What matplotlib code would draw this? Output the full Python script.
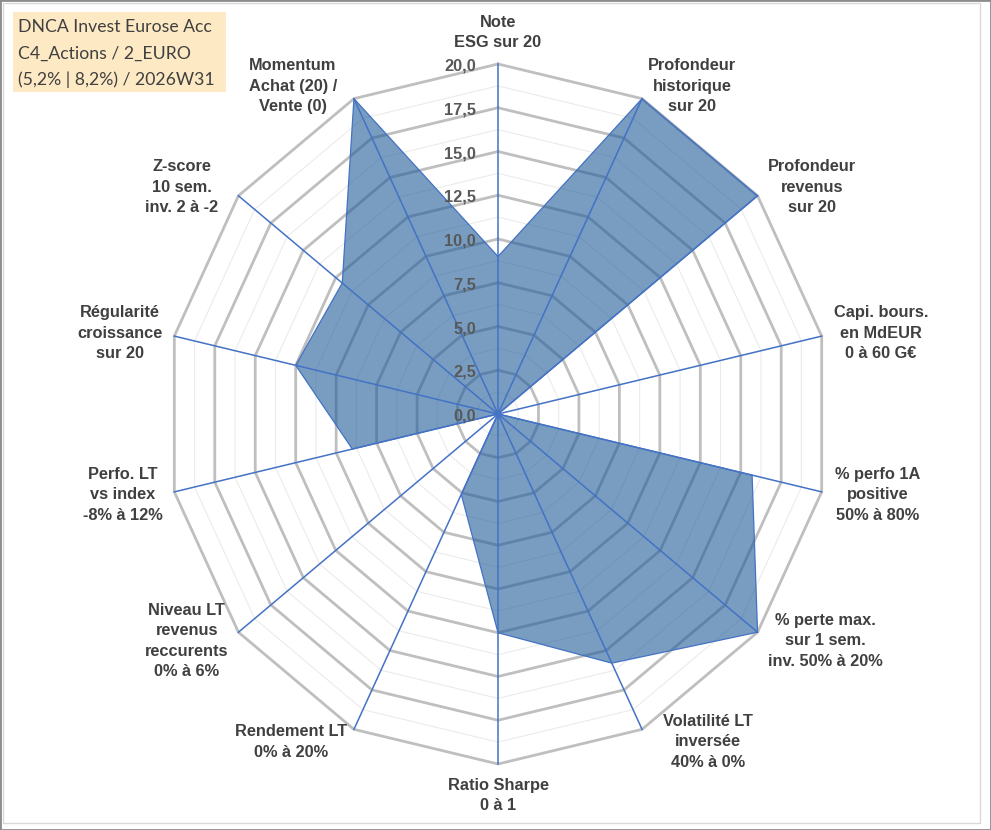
import numpy as np
import matplotlib.pyplot as plt
from matplotlib.patches import Rectangle

# axes of the radar, clockwise from the top
labels = ['Note\nESG sur 20',
          'Profondeur\nhistorique\nsur 20',
          'Profondeur\nrevenus\nsur 20',
          'Capi. bours.\nen MdEUR\n0 à 60 G€',
          '% perfo 1A\npositive\n50% à 80%',
          '% perte max.\nsur 1 sem.\ninv. 50% à 20%',
          'Volatilité LT\ninversée\n40% à 0%',
          'Ratio Sharpe\n0 à 1',
          'Rendement LT\n0% à 20%',
          'Niveau LT\nrevenus\nreccurents\n0% à 6%',
          'Perfo. LT\nvs index\n-8% à 12%',
          'Régularité\ncroissance\nsur 20',
          'Z-score\n10 sem.\ninv. 2 à -2',
          'Momentum\nAchat (20) /\nVente (0)']
values = [9.0, 20.0, 20.0, 0.0, 15.7, 20.0, 15.8, 12.5, 5.1, 0.0, 9.0, 12.5, 12.0, 20.0]
ticks = [0, 2.5, 5, 7.5, 10, 12.5, 15, 17.5, 20]
title_lines = ['DNCA Invest Eurose Acc', 'C4_Actions / 2_EURO', '(5,2% | 8,2%) / 2026W31']

# horizontal gap (px) between outer vertex and label
label_gap = [0, 6, 10, 12, 13, 10, 21, 0, 7, 10, 12, 12, 20, 17]

W, H = 991, 830
fig = plt.figure(figsize=(W / 100, H / 100), dpi=100)
ax = fig.add_axes([0, 0, 1, 1])
cx, cy = 498, 414      # centre in pixels
rx, ry = 332, 350      # radius of 20 in pixels (Excel plot area is slightly oval)
rmax = 20
ax.set_xlim(-cx / rx * rmax, (W - cx) / rx * rmax)
ax.set_ylim(-(H - cy) / ry * rmax, cy / ry * rmax)
ax.axis('off')

n = len(labels)
theta = 2 * np.pi * np.arange(n) / n
s, c = np.sin(theta), np.cos(theta)
sc = np.append(s, s[0])
cc = np.append(c, c[0])

# minor grid rings
for r in np.arange(1.25, rmax, 2.5):
    ax.plot(r * sc, r * cc, color='#EBEBEB', lw=0.8, zorder=1)
# major grid rings
for r in ticks[1:]:
    ax.plot(r * sc, r * cc, color='#BFBFBF', lw=2.0, zorder=2, solid_joinstyle='miter')

# data polygon
v = np.array(values)
vx = np.append(v * s, v[0] * s[0])
vy = np.append(v * c, v[0] * c[0])
ax.fill(vx, vy, color='#1F5C99', alpha=0.6, lw=0, zorder=3)
ax.plot(vx, vy, color='#4472C4', lw=0.9, zorder=4)

# spokes
for i in range(n):
    ax.plot([0, rmax * s[i]], [0, rmax * c[i]], color='#4472C4', lw=1.1, zorder=5)

# tick labels on the top spoke
for t in ticks:
    ax.annotate(f'{t:.1f}'.replace('.', ','), xy=(0, t), xytext=(-22, -2),
                textcoords='offset pixels', ha='right', va='center',
                fontsize=11.8, fontweight='bold', color='#595959',
                family='Liberation Sans', zorder=6)

# category labels
for i in range(n):
    if abs(s[i]) < 0.1:
        ha = 'center'
        va = 'bottom' if c[i] > 0 else 'top'
        off = (0, 14 if c[i] > 0 else -14)
    else:
        ha = 'left' if s[i] > 0 else 'right'
        va = 'center'
        off = (label_gap[i] * np.sign(s[i]), 14 * c[i])
    ax.annotate(labels[i], xy=(rmax * s[i], rmax * c[i]), xytext=off,
                textcoords='offset pixels', ha=ha, va=va, multialignment='center',
                fontsize=11.8, fontweight='bold', color='#404040',
                family='Liberation Sans', linespacing=1.45, zorder=6)

# title box
fig.add_artist(Rectangle((12.7 / W, 1 - 91.7 / H), 213 / W, 80 / H,
                         transform=fig.transFigure, facecolor='#FDE9C3',
                         edgecolor='none', zorder=7))
for k, line in enumerate(title_lines):
    fig.text(18 / W, 1 - (27 + 26.5 * k) / H, line, ha='left', va='center',
             fontsize=12.7, color='#404040', family='Lato', zorder=8)

# chart borders
fig.add_artist(Rectangle((3 / W, 7 / H), 977 / W, 820 / H, transform=fig.transFigure,
                         fill=False, edgecolor='#D9D9D9', lw=1))
fig.add_artist(Rectangle((0, 0), 1, 1, transform=fig.transFigure,
                         fill=False, edgecolor='#8C8C8C', lw=2))

fig.savefig('out.png', dpi=100)
